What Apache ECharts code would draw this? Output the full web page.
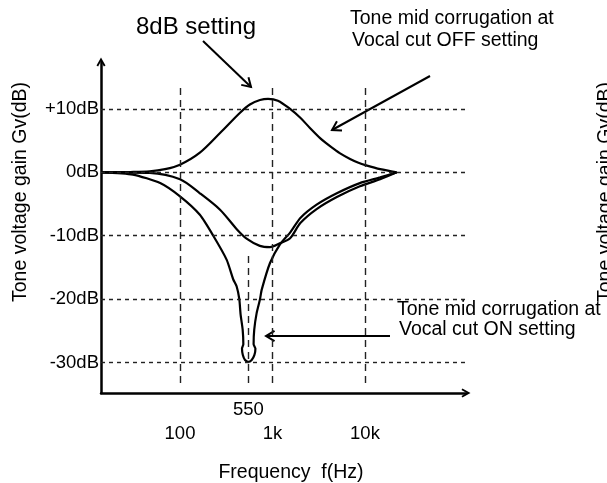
<!DOCTYPE html>
<html>
<head>
<meta charset="utf-8">
<title>Tone mid corrugation</title>
<script src="https://cdn.jsdelivr.net/npm/echarts@6/dist/echarts.min.js"></script>
<style>
  html, body { margin: 0; padding: 0; background: #fff; }
  #chart { width: 607px; height: 483px; }
</style>
</head>
<body>
<div id="chart"></div>
<script>
// boost curve (8dB setting)
const boostFreq = [14, 29, 47, 69, 100, 164, 271, 446, 570, 733, 895, 1144, 1550, 2000, 2540, 3270, 3800, 4400, 5500, 6900, 8500, 10300, 14600, 22000]
const boostGain = [0, 0.05, 0.15, 0.5, 1.2, 3.1, 6.2, 9.4, 10.7, 11.4, 11.6, 11.3, 10.0, 8.6, 7.0, 5.4, 4.6, 3.9, 2.9, 2.1, 1.5, 1.1, 0.5, 0]

// cut curve, vocal cut OFF
const cutOffFreq = [14, 47, 100, 164, 271, 413, 530, 730, 940, 1200, 1550, 2000, 3000, 4960, 8800, 14600, 22000]
const cutOffGain = [0, -0.1, -1.1, -3.3, -5.9, -9.0, -10.5, -11.6, -11.8, -11.2, -10.4, -8.0, -5.8, -3.9, -2.2, -1.1, 0]

// cut curve, vocal cut ON (notch at 550Hz)
const cutOnFreq = [14, 31, 61, 100, 164, 229, 320, 377, 410, 438, 452, 476, 484, 468, 478, 505, 547, 596, 638, 654, 625, 635, 674, 733, 765, 940, 1200, 1550, 2000, 3000, 4960, 8800, 14600, 22000]
const cutOnGain = [0, -0.35, -1.7, -3.8, -6.7, -10.0, -13.8, -16.9, -18.0, -20.0, -22.4, -24.8, -27.1, -27.8, -28.8, -29.6, -29.9, -29.6, -28.8, -27.8, -27.1, -24.8, -22.2, -20.0, -18.5, -14.3, -11.4, -9.5, -7.2, -5.1, -3.3, -1.7, -0.8, 0]

// ticks
const gainTicks = [10, 0, -10, -20, -30]
const gainTickLabels = ['+10dB', '0dB', '-10dB', '-20dB', '-30dB']
const freqTicks = [100, 1000, 10000]
const freqTickLabels = ['100', '1k', '10k']
const notchTicks = [550]
const notchTickLabels = ['550']

const xMin = 14
const xMax = 123600
const yMin = -34.8
const yMax = 17.4
const guideTop = 13.3
const guideBottom = -33.3
const notchGuideTop = -13.2

const FONT = "'Liberation Sans', Arial, Helvetica, sans-serif"
const arrowHead = 'path://M0,9 L5,0 L10,9 L8.2,10 L5,4.2 L1.8,10 Z'

function zip(xs, ys) {
  return xs.map((x, i) => [x, ys[i]])
}

function arrow(x1, y1, x2, y2) {
  const a = Math.atan2(y2 - y1, x2 - x1)
  const len = 10
  const spread = 0.55
  const p1 = [x2 - len * Math.cos(a - spread), y2 - len * Math.sin(a - spread)]
  const p2 = [x2 - len * Math.cos(a + spread), y2 - len * Math.sin(a + spread)]
  return {
    type: 'group',
    children: [
      { type: 'line', shape: { x1, y1, x2, y2 }, style: { stroke: '#000', lineWidth: 2 } },
      { type: 'polyline', shape: { points: [p1, [x2, y2], p2] }, style: { stroke: '#000', lineWidth: 2, fill: 'none' } }
    ]
  }
}

function text(str, x, y, size, align, rotation) {
  return {
    type: 'text',
    x,
    y,
    rotation: rotation || 0,
    style: {
      text: str,
      fill: '#000',
      fontSize: size,
      fontFamily: FONT,
      textAlign: align || 'center',
      textVerticalAlign: 'middle'
    }
  }
}

// invisible scatter used only to place tick labels on the axes' scales
function tickLabels(points, labels, position, offset) {
  return {
    type: 'scatter',
    symbolSize: 0,
    silent: true,
    clip: false,
    itemStyle: { opacity: 1 },
    data: points,
    label: {
      show: true,
      position,
      distance: 2,
      offset: offset || [0, 0],
      formatter: p => labels[p.dataIndex],
      color: '#000',
      opacity: 1,
      fontSize: 18.5,
      fontFamily: FONT
    }
  }
}

const curveStyle = { color: '#000', width: 2.2 }
const guideColor = '#222'

const hGuides = gainTicks.map(v => ({ yAxis: v, lineStyle: { type: [4, 4] } }))
const vGuides = freqTicks.map(f => [
  { coord: [f, guideTop], lineStyle: { type: [7, 5] } },
  { coord: [f, guideBottom] }
]).concat(notchTicks.map(f => [
  { coord: [f, notchGuideTop], lineStyle: { type: [7, 5] } },
  { coord: [f, guideBottom] }
]))

const chart = echarts.init(document.getElementById('chart'), null, { renderer: 'canvas' })

const option = {
  animation: false,
  backgroundColor: '#fff',
  grid: { left: 101, top: 62, right: 141, bottom: 90 },
  xAxis: {
    type: 'log',
    logBase: 10,
    min: xMin,
    max: xMax,
    axisLine: {
      show: true,
      onZero: false,
      symbol: ['none', arrowHead],
      symbolSize: [11, 9],
      lineStyle: { color: '#000', width: 2.5 }
    },
    axisTick: { show: false },
    axisLabel: { show: false },
    splitLine: { show: false }
  },
  yAxis: {
    type: 'value',
    min: yMin,
    max: yMax,
    axisLine: {
      show: true,
      onZero: false,
      symbol: ['none', arrowHead],
      symbolSize: [11, 9],
      lineStyle: { color: '#000', width: 2.5 }
    },
    axisTick: { show: false },
    axisLabel: { show: false },
    splitLine: { show: false }
  },
  series: [
    {
      name: 'boost',
      type: 'line',
      data: zip(boostFreq, boostGain),
      showSymbol: false,
      smooth: 0.3,
      lineStyle: curveStyle,
      z: 3,
      markLine: {
        silent: true,
        symbol: ['none', 'none'],
        label: { show: false },
        lineStyle: { color: guideColor, width: 1.4 },
        data: hGuides.concat(vGuides)
      }
    },
    {
      name: 'cut off',
      type: 'line',
      data: zip(cutOffFreq, cutOffGain),
      showSymbol: false,
      smooth: 0.3,
      lineStyle: curveStyle,
      z: 3
    },
    {
      name: 'cut on',
      type: 'line',
      data: zip(cutOnFreq, cutOnGain),
      showSymbol: false,
      smooth: 0.2,
      lineStyle: curveStyle,
      z: 3
    },
    tickLabels(gainTicks.map(v => [xMin, v]), gainTickLabels, 'left'),
    tickLabels(freqTicks.map(f => [f, yMin]), freqTickLabels, 'inside', [0, 41]),
    tickLabels(notchTicks.map(f => [f, yMin]), notchTickLabels, 'inside', [0, 17])
  ],
  graphic: [
    text('8dB setting', 196, 27, 24),
    text('Tone mid corrugation at', 350, 19, 19.5, 'left'),
    text('Vocal cut OFF setting', 352, 41, 19.5, 'left'),
    text('Tone mid corrugation at', 397, 310, 19.5, 'left'),
    text('Vocal cut ON setting', 399, 330, 19.5, 'left'),
    text('Tone voltage gain Gv(dB)', 21, 192, 19.5, 'center', Math.PI / 2),
    text('Tone voltage gain Gv(dB)', 606, 192, 19.5, 'center', Math.PI / 2),
    text('Frequency  f(Hz)', 291, 473, 19.5),
    arrow(203, 41, 251, 87),
    arrow(430, 76, 332, 130),
    arrow(390, 336, 266, 336)
  ]
}

chart.setOption(option)
</script>
</body>
</html>
